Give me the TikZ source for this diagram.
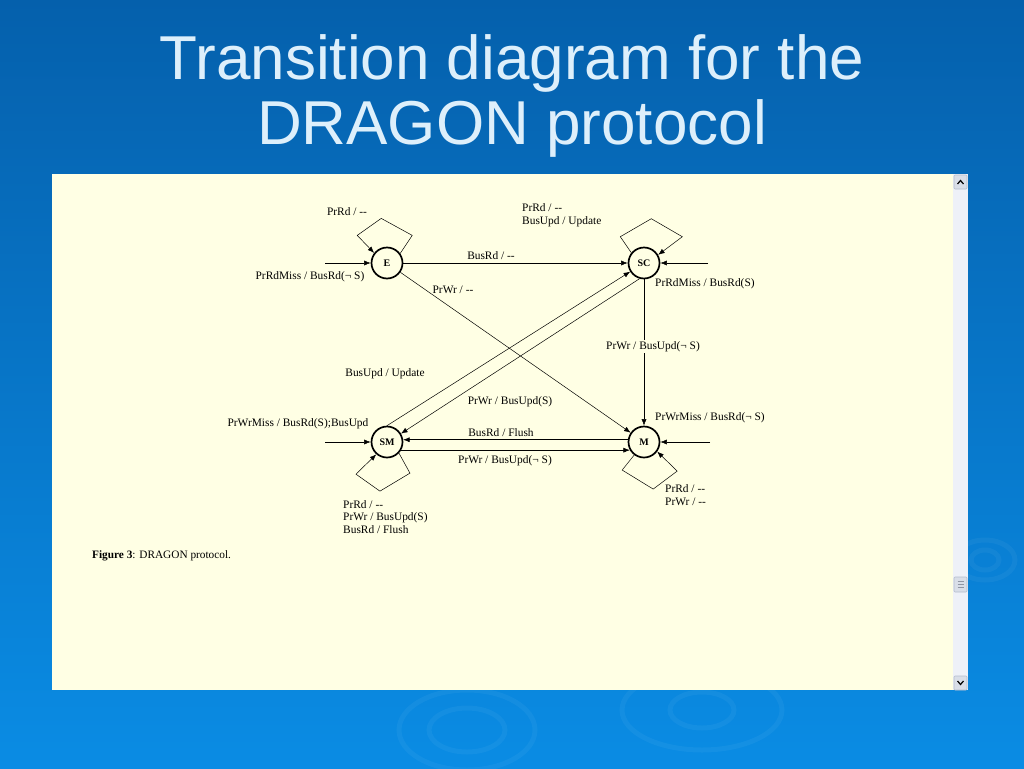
\documentclass[tikz,border=0pt]{standalone}
\usepackage{fontspec}
\setmainfont{Liberation Serif}
\newfontfamily\titlefont{Liberation Sans}
\usetikzlibrary{arrows.meta, positioning, calc}
\definecolor{slideTop}{HTML}{0560AC}
\definecolor{slideBottom}{HTML}{0A8CE4}
\definecolor{titleText}{HTML}{DDEFFB}
\definecolor{paperYellow}{HTML}{FFFFE4}
\definecolor{scrollTrack}{HTML}{EEF1F8}
\definecolor{scrollButton}{HTML}{D9DEE8}
\definecolor{scrollEdge}{HTML}{B4BCCC}
\tikzset{
    % Slide
    slidePic/.style={x=1pt, y=-1pt},
    titleLine/.style={font=\titlefont\fontsize{62}{62}\selectfont, text=titleText, inner sep=0pt, anchor=base},
    ripple/.style={draw=white, draw opacity=0.045, line width=5pt},
    % Scroll bar
    scrollBox/.style={fill=scrollButton, draw=scrollEdge, line width=0.6pt, rounded corners=1pt},
    % States
    stateNode/.style={circle, draw=black, line width=1.7pt, minimum size=31pt, inner sep=0pt, font=\bfseries\fontsize{10}{10}\selectfont},
    transLabel/.style={font=\fontsize{11.4}{12.8}\selectfont, inner sep=1pt, align=left},
    arrowTrans/.style={-{Latex[length=6.5pt,width=5pt]}, line width=0.5pt},
    captionText/.style={font=\fontsize{11.3}{12}\selectfont, anchor=west, inner sep=0pt}
}
\begin{document}
\begin{tikzpicture}[slidePic]
    % Background
    \shade[top color=slideTop, bottom color=slideBottom] (0,0) rectangle (1024,768);
    \useasboundingbox (0,0) rectangle (1024,768);
    \draw[ripple] (467,730) ellipse (38 and 22);
    \draw[ripple] (467,730) ellipse (68 and 40);
    \draw[ripple] (702,710) ellipse (32 and 18);
    \draw[ripple] (702,710) ellipse (80 and 40);
    \draw[ripple] (985,560) ellipse (14 and 10);
    \draw[ripple] (985,560) ellipse (30 and 20);

    % Title
    \node[titleLine] (title1) at (512,79) {Transition diagram for the};
    \node[titleLine] (title2) at (512,144) {DRAGON protocol};

    % Page and scroll bar
    \fill[paperYellow] (52,174) rectangle (953,690);
    \fill[scrollTrack] (953,174) rectangle (968,690);
    \draw[scrollBox] (954,175) rectangle (967,189);
    \draw[line width=1.2pt] (957.5,184) -- (960.5,180.5) -- (963.5,184);
    \draw[scrollBox] (954,577) rectangle (967,592);
    \foreach \y in {581.5, 584.5, 587.5} \draw[scrollEdge!80!black, line width=0.5pt] (957.5,\y) -- (963.5,\y);
    \draw[scrollBox] (954,676) rectangle (967,690);
    \draw[line width=1.2pt] (957.5,681) -- (960.5,684.5) -- (963.5,681);

    % States
    \node[stateNode] (E) at (387,263) {E};
    \node[stateNode] (SC) at (644,263) {SC};
    \node[stateNode] (SM) at (387,442) {SM};
    \node[stateNode] (M) at (644,442) {M};

    % Entry arrows
    \coordinate (eIn) at (325,263);
    \coordinate (scIn) at (708,263);
    \coordinate (smIn) at (325,442);
    \coordinate (mIn) at (710,442);
    \draw[arrowTrans] (eIn) -- (E);
    \draw[arrowTrans] (scIn) -- (SC);
    \draw[arrowTrans] (smIn) -- (SM);
    \draw[arrowTrans] (mIn) -- (M);
    \node[transLabel] at (310,277) {PrRdMiss / BusRd(¬ S)};
    \node[transLabel, anchor=west] at (654,284) {PrRdMiss / BusRd(S)};
    \node[transLabel] at (298,424) {PrWrMiss / BusRd(S);BusUpd};
    \node[transLabel, anchor=west] at (654,418) {PrWrMiss / BusRd(¬ S)};

    % Self loops
    \draw[arrowTrans] (E.36) -- ++(12,-18) -- ++(-31,-17) -- ++(-24,17) -- (E.142);
    \draw[arrowTrans] (SC.141) -- ++(-11,-16) -- ++(31,-18) -- ++(31,18) -- (SC.30);
    \draw[arrowTrans] (SM.-43) -- ++(11,20) -- ++(-30,18) -- ++(-24,-17) -- (SM.229);
    \draw[arrowTrans] (M.233) -- ++(-12,15) -- ++(31,19) -- ++(24,-18) -- (M.-36);
    \node[transLabel] at (347,212) {PrRd / -{}-};
    \node[transLabel, anchor=west] at (521,215) {PrRd / -{}-\\BusUpd / Update};
    \node[transLabel, anchor=west] at (342,517) {PrRd / -{}-\\PrWr / BusUpd(S)\\BusRd / Flush};
    \node[transLabel, anchor=west] at (664,495) {PrRd / -{}-\\PrWr / -{}-};

    % Transitions between states
    \draw[arrowTrans] (E) -- (SC);
    \node[transLabel] at (491,256) {BusRd / -{}-};
    \draw[arrowTrans] (E) -- (M);
    \node[transLabel] at (453,290) {PrWr / -{}-};
    \draw[arrowTrans] (SC) -- (M) node[transLabel, fill=paperYellow, pos=0.46, xshift=9pt] {PrWr / BusUpd(¬ S)};
    \draw[arrowTrans] (SM.north) -- (SC.212);
    \draw[arrowTrans] (SC.254) -- (SM.31);
    \node[transLabel] at (385,374) {BusUpd / Update};
    \node[transLabel] at (510,402) {PrWr / BusUpd(S)};
    \draw[arrowTrans] (M.172) -- (SM.8);
    \draw[arrowTrans] (SM.-30) -- (M.210);
    \node[transLabel] at (501,433) {BusRd / Flush};
    \node[transLabel] at (505,461) {PrWr / BusUpd(¬ S)};

    % Caption
    \node[captionText] at (92,556) {\textbf{Figure 3}: DRAGON protocol.};
\end{tikzpicture}
\end{document}
